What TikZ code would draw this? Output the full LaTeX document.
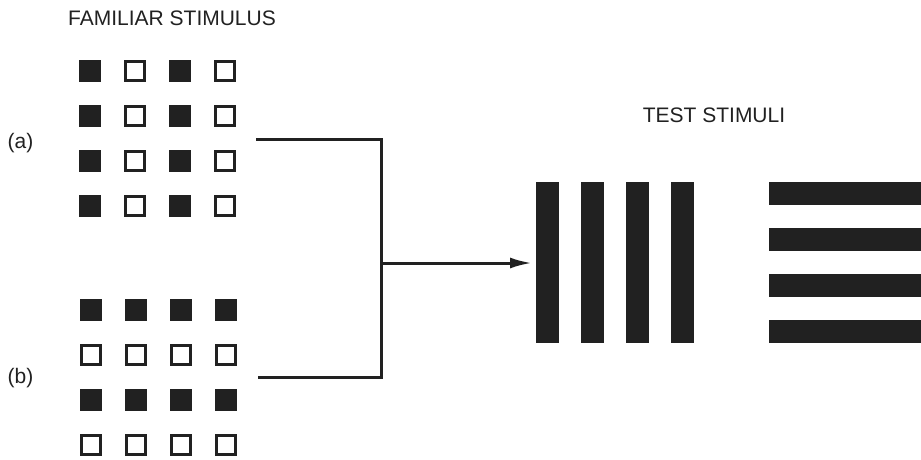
\documentclass[tikz,border=0pt]{standalone}
\usepackage{fontspec}
\setmainfont{Liberation Sans}
\usetikzlibrary{arrows.meta}
\colorlet{ink color}{black!87}
\tikzset{
    x={1pt},
    y={-1pt},
    caption/.style={
        font={\fontsize{21}{25}\selectfont},
        text=ink color,
        inner sep=0pt,
        outer sep=0pt,
    },
    filled cell/.style={
        rectangle, fill=ink color,
        inner sep=0pt, outer sep=0pt,
        minimum size={22.5},
    },
    open cell/.style={
        rectangle, draw=ink color, fill=white,
        line width={3pt},
        inner sep=0pt, outer sep=0pt,
        minimum size={19.5},
    },
    grating bar/.style 2 args={
        rectangle, fill=ink color,
        inner sep=0pt, outer sep=0pt,
        minimum width={#1},
        minimum height={#2},
    },
    connector/.style={
        draw=ink color,
        line width={3pt},
        line join=miter,
    },
}

\begin{document}
\begin{tikzpicture}
\useasboundingbox (0,0) rectangle (921,459);
% labels
\node[caption, anchor=base] (familiar) at (172,25) {FAMILIAR STIMULUS};
\node[caption, anchor=base] (test) at (714,122) {TEST STIMULI};
\node[caption] (label a) at (20.5,143) {(a)};
\node[caption] (label b) at (20.5,378) {(b)};
% grid (a): columns alternate
\node[filled cell] (a11) at (90,71) {};
\node[open cell] (a12) at (135,71) {};
\node[filled cell] (a13) at (180,71) {};
\node[open cell] (a14) at (225,71) {};
\node[filled cell] (a21) at (90,116) {};
\node[open cell] (a22) at (135,116) {};
\node[filled cell] (a23) at (180,116) {};
\node[open cell] (a24) at (225,116) {};
\node[filled cell] (a31) at (90,161) {};
\node[open cell] (a32) at (135,161) {};
\node[filled cell] (a33) at (180,161) {};
\node[open cell] (a34) at (225,161) {};
\node[filled cell] (a41) at (90,206) {};
\node[open cell] (a42) at (135,206) {};
\node[filled cell] (a43) at (180,206) {};
\node[open cell] (a44) at (225,206) {};
% grid (b): rows alternate
\node[filled cell] (b11) at (91,310) {};
\node[filled cell] (b12) at (136,310) {};
\node[filled cell] (b13) at (181,310) {};
\node[filled cell] (b14) at (226,310) {};
\node[open cell] (b21) at (91,355) {};
\node[open cell] (b22) at (136,355) {};
\node[open cell] (b23) at (181,355) {};
\node[open cell] (b24) at (226,355) {};
\node[filled cell] (b31) at (91,400) {};
\node[filled cell] (b32) at (136,400) {};
\node[filled cell] (b33) at (181,400) {};
\node[filled cell] (b34) at (226,400) {};
\node[open cell] (b41) at (91,445) {};
\node[open cell] (b42) at (136,445) {};
\node[open cell] (b43) at (181,445) {};
\node[open cell] (b44) at (226,445) {};
% vertical grating
\node[grating bar={23}{161}] (v1) at (547.5,262.5) {};
\node[grating bar={23}{161}] (v2) at (592.5,262.5) {};
\node[grating bar={23}{161}] (v3) at (637.5,262.5) {};
\node[grating bar={23}{161}] (v4) at (682.5,262.5) {};
% horizontal grating, running off the right edge
\node[grating bar={152}{23}] (h1) at (845,193.5) {};
\node[grating bar={152}{23}] (h2) at (845,239.5) {};
\node[grating bar={152}{23}] (h3) at (845,285.5) {};
\node[grating bar={152}{23}] (h4) at (845,331.5) {};
% connectors
\coordinate (a out) at (256,139);
\coordinate (b out) at (258,377);
\coordinate (join) at (381,263);
\draw[connector] (a out) -| (join) |- (b out);
\draw[connector, -{Latex[length=22pt,width=11pt]}, shorten >=4pt] (join) -- (v1.west |- join);
\end{tikzpicture}
\end{document}
